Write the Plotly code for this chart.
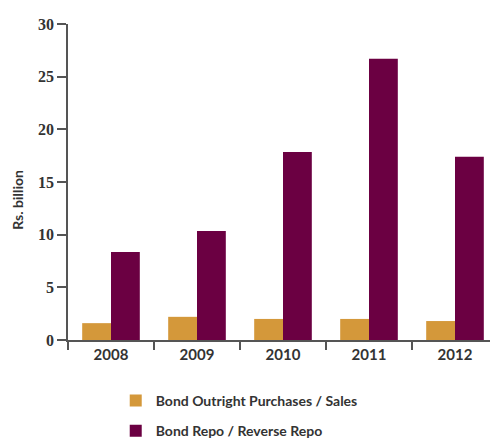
import plotly.graph_objects as go

years = ["2008", "2009", "2010", "2011", "2012"]
outright = [1.6, 2.2, 2.0, 2.0, 1.8]
repo = [8.35, 10.35, 17.85, 26.7, 17.4]
y_ticks = [0, 5, 10, 15, 20, 25, 30]

fig = go.Figure()
fig.add_trace(go.Bar(x=years, y=outright, name="Bond Outright Purchases / Sales",
                     marker=dict(color="#D4983A", line=dict(width=0)), legendgroup="a"))
fig.add_trace(go.Bar(x=years, y=repo, name="Bond Repo / Reverse Repo",
                     marker=dict(color="#6B0042", line=dict(width=0)), legendgroup="b"))

fig.update_layout(
    width=490, height=430,
    margin=dict(l=60, r=0, t=16, b=98, autoexpand=False),
    paper_bgcolor="white", plot_bgcolor="white",
    barmode="group", bargap=0.33, bargroupgap=0,
    showlegend=True,
    legend=dict(orientation="v", x=0.111, y=-0.142, xanchor="left", yanchor="top",
                font=dict(family="Lato", size=14, color="#333333", weight="bold"),
                tracegroupgap=9, bgcolor="rgba(0,0,0,0)"),
    xaxis=dict(showline=True, linecolor="#555555", linewidth=1.5, automargin=False,
               ticks="outside", ticklen=8, tickcolor="#555555", tickwidth=1.5,
               tickson="boundaries", showgrid=False,
               tickfont=dict(family="Lato", size=15, color="#333333", weight="bold")),
    yaxis=dict(range=[0, 30], tickvals=y_ticks, showline=True, linecolor="#555555",
               linewidth=1.5, ticks="outside", ticklen=9, tickcolor="#555555", automargin=False,
               tickwidth=1.5, showgrid=False, zeroline=False,
               tickfont=dict(family="Liberation Serif", size=16, color="#333333", weight="bold")),
    annotations=[dict(text="Rs. billion", textangle=-90, showarrow=False,
                      xref="paper", yref="paper", x=-0.119, y=0.443,
                      xanchor="center", yanchor="middle",
                      font=dict(family="Lato", size=14, color="#333333", weight="bold"))],
)

fig.write_html("out.html")
